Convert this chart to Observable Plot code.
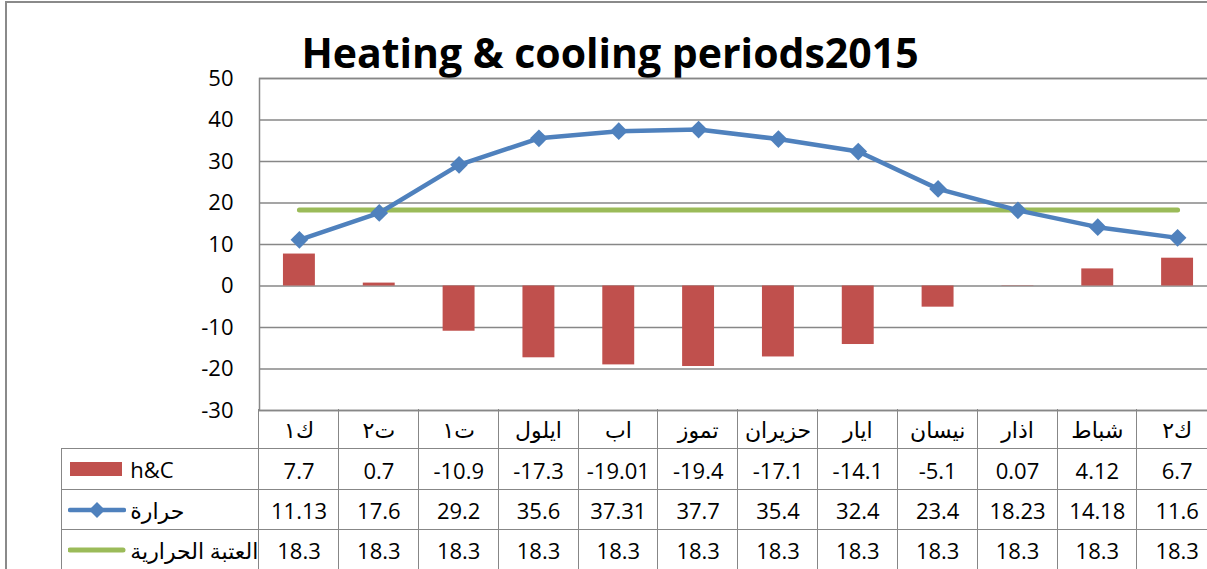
<!DOCTYPE html>
<html><head><meta charset="utf-8">
<script src="https://cdn.jsdelivr.net/npm/d3@7"></script>
<script src="https://cdn.jsdelivr.net/npm/@observablehq/plot@0.6"></script>
<style>
html,body{margin:0;padding:0;width:1207px;height:569px;overflow:hidden;background:#fff;font-family:"Open Sans","DejaVu Sans",sans-serif;color:#000;}
#frame{position:absolute;left:5px;top:1px;width:1400px;height:800px;border-left:2px solid #8a8a8a;border-top:2px solid #8a8a8a;}
#title{position:absolute;left:0;width:1220px;top:32px;text-align:center;font-weight:700;font-size:41px;line-height:1;white-space:nowrap;}
#chart{position:absolute;left:0;top:0;width:1230px;}
#chart svg{max-width:none !important;}
.cell{position:absolute;box-sizing:border-box;display:flex;align-items:center;justify-content:center;font-size:22px;white-space:nowrap;}
.leg{justify-content:flex-start;padding-left:6px;}
.leg svg{margin-right:4px;flex:none;}
</style></head>
<body>
<div id="frame"></div>
<div id="title"></div>
<div id="chart"></div>
<div id="table"></div>
<script>
const title = "Heating & cooling periods2015";
const months = ["ك١","ت٢","ت١","ايلول","اب","تموز","حزيران","ايار","نيسان","اذار","شباط","ك٢"];
const hc = [7.7, 0.7, -10.9, -17.3, -19.01, -19.4, -17.1, -14.1, -5.1, 0.07, 4.12, 6.7];
const temp = [11.13, 17.6, 29.2, 35.6, 37.31, 37.7, 35.4, 32.4, 23.4, 18.23, 14.18, 11.6];
const threshold = [18.3, 18.3, 18.3, 18.3, 18.3, 18.3, 18.3, 18.3, 18.3, 18.3, 18.3, 18.3];
const seriesNames = ["h&C", "حرارة", "العتبة الحرارية"];
const yTicks = [-30, -20, -10, 0, 10, 20, 30, 40, 50];

const colors = {hc: "#C0504D", temp: "#4F81BD", thr: "#9BBB59", grid: "#878787"};

document.getElementById("title").textContent = title;

const data = months.map((m, i) => ({m, hc: hc[i], t: temp[i], th: threshold[i]}));

const chart = Plot.plot({
  width: 1230, height: 411,
  marginTop: 78, marginBottom: 1, marginLeft: 259, marginRight: 13,
  style: {fontFamily: '"Open Sans","DejaVu Sans",sans-serif', fontSize: "22px", color: "#000", background: "transparent", overflow: "visible", maxWidth: "none"},
  x: {domain: months, paddingInner: 0.6, paddingOuter: 0.3, round: false, axis: null},
  y: {domain: [-30, 50], axis: null},
  marks: [
    Plot.gridY(yTicks, {stroke: colors.grid, strokeOpacity: 1, strokeWidth: 1.5}),
    Plot.frame({stroke: colors.grid, strokeWidth: 1.5}),
    Plot.axisY(yTicks, {tickSize: 0, tickPadding: 26, fontSize: 22, label: null, fill: "#000", tickFormat: d => String(d)}),
    Plot.barY(data, {x: "m", y: "hc", fill: colors.hc}),
    Plot.line(data, {x: "m", y: "th", stroke: colors.thr, strokeWidth: 5, strokeLinecap: "round"}),
    Plot.line(data, {x: "m", y: "t", stroke: colors.temp, strokeWidth: 4.5, strokeLinejoin: "round"}),
    Plot.dot(data, {x: "m", y: "t", symbol: "diamond2", r: 8, fill: colors.temp, stroke: "none"})
  ]
});
document.getElementById("chart").appendChild(chart);

// Data table below the plot, columns aligned on Plot's own x scale
const xs = chart.scale("x");
const step = xs.step;
const colLeft = m => xs.apply(m) - (step - xs.bandwidth) / 2;
const tableLeft = 62;
const rows = [
  {top: 410, h: 39, values: months, legend: null},
  {top: 449, h: 41, values: hc.map(String), legend: 0},
  {top: 490, h: 40, values: temp.map(String), legend: 1},
  {top: 530, h: 40, values: threshold.map(String), legend: 2}
];
const B = "1.5px solid " + colors.grid;
const tbl = document.getElementById("table");
function swatch(k) {
  const ns = "http://www.w3.org/2000/svg";
  const s = document.createElementNS(ns, "svg");
  s.setAttribute("width", 58); s.setAttribute("height", 20);
  if (k === 0) {
    s.innerHTML = `<rect x="2" y="3" width="52" height="14" fill="${colors.hc}"/>`;
  } else if (k === 1) {
    s.innerHTML = `<line x1="2" y1="10" x2="56" y2="10" stroke="${colors.temp}" stroke-width="4.5" stroke-linecap="round"/><path d="M29,2 L37,10 L29,18 L21,10 Z" fill="${colors.temp}"/>`;
  } else {
    s.innerHTML = `<line x1="2" y1="10" x2="55" y2="10" stroke="${colors.thr}" stroke-width="5" stroke-linecap="round"/>`;
  }
  return s;
}
rows.forEach((r, ri) => {
  if (r.legend !== null) {
    const c = document.createElement("div");
    c.className = "cell leg";
    Object.assign(c.style, {left: (tableLeft - 0.75) + "px", top: (r.top - 0.75) + "px", width: (colLeft(months[0]) - tableLeft + 0.75) + "px", height: r.h + "px", borderLeft: B, borderTop: B});
    c.appendChild(swatch(r.legend));
    const sp = document.createElement("span");
    sp.textContent = seriesNames[r.legend];
    c.appendChild(sp);
    tbl.appendChild(c);
  }
  months.forEach((m, i) => {
    const c = document.createElement("div");
    c.className = "cell";
    const l = colLeft(m);
    Object.assign(c.style, {left: (l - 0.75) + "px", top: (r.top - 0.75) + "px", width: (step + 0.75) + "px", height: (r.h + 0.75) + "px", borderLeft: B});
    if (ri > 0) c.style.borderTop = B;
    c.textContent = r.values[i];
    tbl.appendChild(c);
  });
});
</script>
</body></html>
